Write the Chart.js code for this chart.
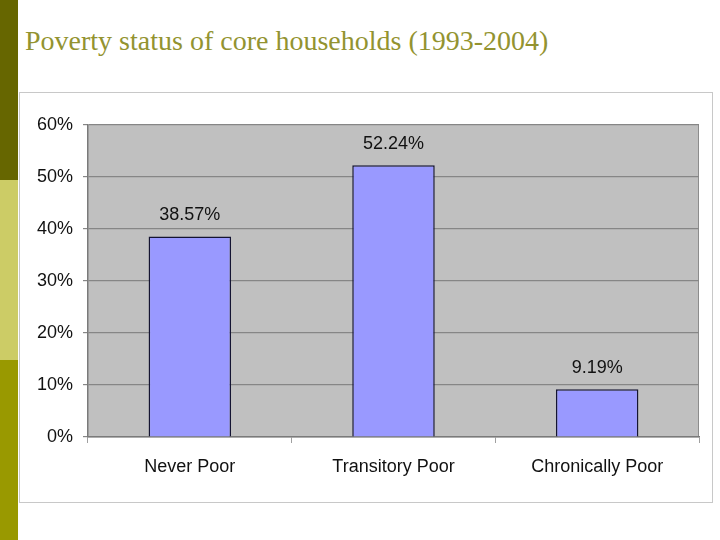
<!DOCTYPE html>
<html>
<head>
<meta charset="utf-8">
<title>Poverty status of core households</title>
<script src="https://cdn.jsdelivr.net/npm/chart.js@4.4.1/dist/chart.umd.min.js"></script>
<style>
    html, body { margin: 0; padding: 0; background: #ffffff; overflow: hidden; }
    #page { position: relative; width: 720px; height: 540px; }
    .strip { position: absolute; left: 0; width: 18px; height: 180px; }
    #title {
        position: absolute; left: 25px; top: 25px;
        font-family: "Liberation Serif", "Times New Roman", serif;
        font-size: 28px; color: #939330; white-space: nowrap;
    }
    #box {
        position: absolute; left: 19px; top: 92px; width: 692px; height: 409px;
        border: 1px solid #c8c8c8;
    }
    #wrap { position: absolute; left: 0; top: 0; width: 720px; height: 540px; }
</style>
</head>
<body>
<div id="page">
    <div class="strip" style="top:0;background:#666600"></div>
    <div class="strip" style="top:180px;background:#cccc66"></div>
    <div class="strip" style="top:360px;background:#999900"></div>
    <div id="title">Poverty status of core households (1993-2004)</div>
    <div id="box"></div>
    <div id="wrap"><canvas id="povertyChart"></canvas></div>
</div>
<script>
// Kategorien und Werte (Anteil der Haushalte in %)
const categories = ["Never Poor", "Transitory Poor", "Chronically Poor"];
const shares = [38.57, 52.24, 9.19];
const yTicks = [0, 10, 20, 30, 40, 50, 60];

// Grauer Hintergrund der Zeichenfläche plus rechter Rand
const plotBackground = {
    id: "plotBackground",
    beforeDraw(chart) {
        const { ctx, chartArea: a } = chart;
        ctx.save();
        ctx.fillStyle = "#c0c0c0";
        ctx.fillRect(a.left, a.top, a.right - a.left, a.bottom - a.top);
        ctx.strokeStyle = "#8c8c8c";
        ctx.lineWidth = 1;
        ctx.beginPath();
        ctx.moveTo(a.right - 0.5, a.top);
        ctx.lineTo(a.right - 0.5, a.bottom);
        ctx.stroke();
        ctx.restore();
    }
};

// Werte über den Balken
const valueLabels = {
    id: "valueLabels",
    afterDatasetsDraw(chart) {
        const { ctx } = chart;
        const meta = chart.getDatasetMeta(0);
        ctx.save();
        ctx.font = "18px 'Liberation Sans', Arial, sans-serif";
        ctx.fillStyle = "#111111";
        ctx.textAlign = "center";
        ctx.textBaseline = "alphabetic";
        meta.data.forEach((bar, i) => {
            ctx.fillText(shares[i].toFixed(2) + "%", bar.x, bar.y - 16);
        });
        ctx.restore();
    }
};

new Chart(document.getElementById("povertyChart"), {
    type: "bar",
    data: {
        labels: categories,
        datasets: [{
            data: shares,
            backgroundColor: "#9999ff",
            borderColor: "#141432",
            borderWidth: 1.5,
            barPercentage: 0.405,
            categoryPercentage: 1.0
        }]
    },
    options: {
        responsive: true,
        maintainAspectRatio: false,
        animation: false,
        layout: { padding: { top: 125, right: 21, left: 0, bottom: 0 } },
        plugins: {
            legend: { display: false },
            tooltip: { enabled: false }
        },
        scales: {
            x: {
                afterFit: scale => { scale.height = 103; },
                grid: {
                    offset: true,
                    drawOnChartArea: false,
                    drawTicks: true,
                    tickLength: 6,
                    color: "#a0a0a0"
                },
                border: { display: true, color: "#7a7a7a", width: 1.5 },
                ticks: {
                    color: "#111111",
                    padding: 13,
                    font: { size: 18, family: "'Liberation Sans', Arial, sans-serif" }
                }
            },
            y: {
                min: 0,
                max: 60,
                afterFit: scale => { scale.width = 88; },
                afterBuildTicks: scale => { scale.ticks = yTicks.map(v => ({ value: v })); },
                grid: {
                    color: "#868686",
                    lineWidth: 1.2,
                    drawTicks: true,
                    tickLength: 5
                },
                border: { display: true, color: "#7a7a7a", width: 1.5 },
                ticks: {
                    color: "#111111",
                    padding: 10,
                    callback: v => v + "%",
                    font: { size: 18, family: "'Liberation Sans', Arial, sans-serif" }
                }
            }
        }
    },
    plugins: [plotBackground, valueLabels]
});
</script>
</body>
</html>
